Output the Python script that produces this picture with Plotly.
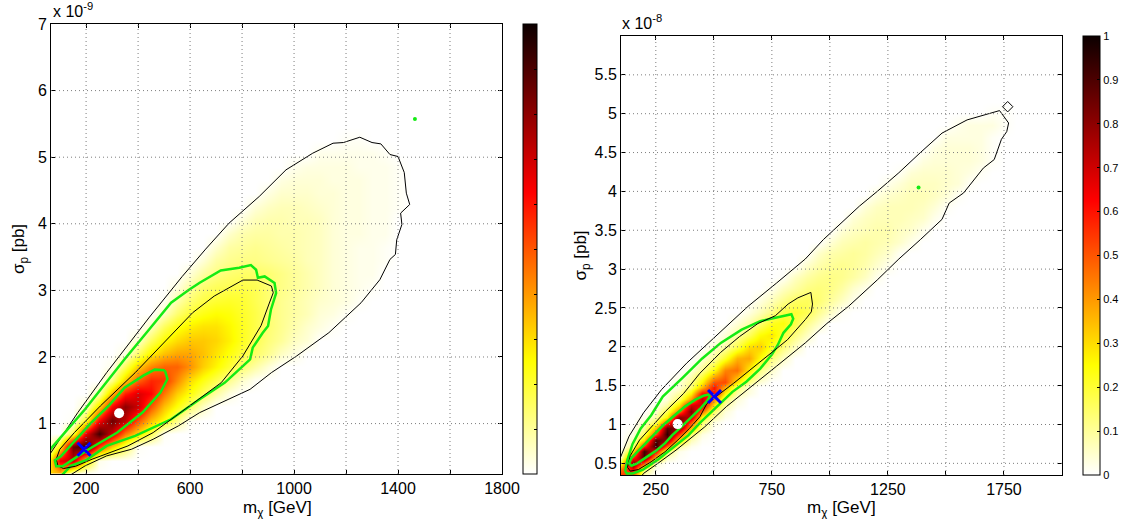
import plotly.graph_objects as go

W, H = 1125, 519
FONT = "Liberation Sans, Arial, Helvetica, sans-serif"

# ---------------- LEFT PANEL (sigma_p in units of 1e-9 pb) ----------------
L_XCOLS = list(range(50, 1501, 50))
# (sigma row, first m_chi column, relative density in % ...)
L_ROWS = [
    (0.25, 50, [30, 35, 3]),
    (0.45, 50, [15, 65, 72, 30, 2]),
    (0.65, 100, [25, 85, 95, 55, 32, 17, 1]),
    (0.85, 150, [18, 65, 92, 70, 45, 30, 17, 1]),
    (1.05, 150, [1, 22, 62, 85, 72, 50, 34, 24, 12, 1]),
    (1.25, 200, [5, 30, 62, 80, 70, 50, 34, 24, 15, 6]),
    (1.45, 250, [8, 35, 58, 68, 62, 45, 32, 24, 16, 9, 3]),
    (1.65, 300, [12, 32, 48, 57, 55, 42, 30, 23, 17, 11, 5, 1]),
    (1.85, 300, [2, 16, 32, 43, 48, 48, 41, 32, 26, 20, 14, 9, 4]),
    (2.05, 350, [3, 15, 27, 34, 38, 38, 34, 29, 24, 19, 15, 11, 6, 3]),
    (2.25, 400, [5, 16, 25, 30, 33, 33, 31, 27, 22, 17, 13, 10, 6, 4]),
    (2.45, 450, [6, 16, 23, 27, 29, 29, 26, 22, 18, 14, 11, 8, 5, 3, 1]),
    (2.65, 500, [6, 14, 20, 23, 25, 24, 21, 18, 14, 11, 9, 7, 4, 3, 1]),
    (2.85, 500, [1, 8, 14, 18, 20, 21, 20, 17, 14, 11, 9, 7, 5, 4, 3, 1]),
    (3.05, 550, [3, 9, 14, 16, 17, 18, 17, 14, 12, 10, 8, 6, 4, 3, 2, 1]),
    (3.25, 600, [4, 9, 12, 14, 15, 15, 14, 12, 10, 8, 6, 4, 3, 2, 2]),
    (3.45, 650, [4, 9, 11, 12, 12, 11, 10, 9, 7, 6, 4, 3, 2, 2, 1]),
    (3.65, 700, [5, 9, 10, 11, 10, 9, 8, 7, 6, 4, 3, 2, 2, 1]),
    (3.85, 750, [5, 8, 9, 9, 8, 8, 7, 6, 4, 3, 3, 2, 2]),
    (4.05, 800, [4, 7, 8, 8, 7, 7, 6, 4, 3, 3, 2, 2]),
    (4.25, 850, [4, 6, 7, 7, 6, 5, 4, 3, 3, 2, 2, 1]),
    (4.45, 900, [3, 5, 5, 5, 4, 4, 3, 3, 2, 2, 1]),
    (4.65, 950, [3, 4, 4, 4, 3, 3, 3, 2, 2, 1]),
    (4.85, 1000, [2, 3, 3, 3, 3, 2, 2, 2, 1]),
    (5.05, 1100, [2, 2, 2, 2, 2, 1]),
    (5.25, 1200, [1, 1]),
    (5.45, 1200, [0]),
]
# contour lines (m_chi, sigma)
L_OB_X = [40, 99, 168, 279, 444, 570, 660, 750, 866, 969, 1072, 1150, 1190, 1253, 1300, 1334, 1369, 1400, 1424, 1432,
          1445, 1410, 1415, 1395, 1390, 1369, 1330, 1258, 1189, 1134, 1010, 913, 831, 748, 637, 555, 458, 375, 279, 196,
          141, 120]
L_OB_Y = [0.42, 0.765, 1.165, 1.765, 2.60, 3.21, 3.62, 4.01, 4.41, 4.81, 5.06, 5.21, 5.22, 5.30, 5.22, 5.20, 5.04, 5.01,
          4.77, 4.46, 4.29, 4.16, 3.99, 3.76, 3.54, 3.465, 3.16, 2.815, 2.565, 2.365, 2.015, 1.765, 1.515, 1.365, 1.165,
          0.965, 0.765, 0.615, 0.515, 0.365, 0.24, 0.18]
L_OG_X = [30, 68, 196, 348, 444, 527, 596, 637, 718, 789, 834, 854, 861, 887, 925, 931, 911, 900, 879, 841, 831, 734,
          637, 527, 389, 279, 200, 141, 113, 95]
L_OG_Y = [0.46, 0.64, 1.215, 1.965, 2.42, 2.815, 3.01, 3.115, 3.30, 3.34, 3.38, 3.31, 3.19, 3.21, 3.11, 2.96, 2.71,
          2.465, 2.36, 2.14, 1.965, 1.615, 1.365, 1.065, 0.815, 0.665, 0.45, 0.365, 0.25, 0.18]
L_IB_X = [85, 92, 113, 160, 223, 361, 458, 596, 720, 803, 873, 905, 920, 913, 858, 803, 748, 693, 610, 499, 389, 255,
          155, 99, 85]
L_IB_Y = [0.465, 0.365, 0.325, 0.36, 0.465, 0.665, 0.865, 1.265, 1.615, 2.015, 2.47, 2.81, 2.965, 3.065, 3.155, 3.155,
          3.04, 2.915, 2.665, 2.215, 1.765, 1.265, 0.865, 0.615, 0.465]
L_IG_X = [503, 513, 486, 417, 320, 210, 141, 110, 85, 80, 103, 160, 219, 290, 348, 420, 464, 503]
L_IG_Y = [1.80, 1.67, 1.465, 1.165, 0.865, 0.615, 0.44, 0.36, 0.36, 0.45, 0.51, 0.76, 1.01, 1.28, 1.54, 1.72, 1.81, 1.80]
L_DOT = (327, 1.155)
L_CROSS = (192, 0.615)
L_GREEN_PT = (1465, 5.575)

# ---------------- RIGHT PANEL (sigma_p in units of 1e-8 pb) ----------------
R_XCOLS = list(range(100, 1801, 50))
R_ROWS = [
    (0.35, 100, [55, 50, 6]),
    (0.425, 100, [45, 65, 15, 1]),
    (0.50, 100, [22, 85, 50, 5]),
    (0.575, 100, [6, 55, 90, 35, 6, 1]),
    (0.65, 100, [3, 28, 92, 62, 15, 2]),
    (0.725, 150, [12, 55, 95, 48, 10, 2]),
    (0.80, 150, [6, 30, 90, 80, 30, 7, 1]),
    (0.875, 150, [3, 16, 52, 95, 55, 14, 3]),
    (0.95, 150, [1, 10, 35, 88, 82, 35, 10, 1]),
    (1.025, 200, [5, 17, 50, 91, 52, 15, 3]),
    (1.10, 200, [2, 9, 27, 80, 73, 24, 9, 2]),
    (1.175, 250, [5, 17, 45, 83, 48, 15, 4]),
    (1.25, 250, [2, 9, 29, 69, 69, 29, 9, 2]),
    (1.325, 300, [4, 15, 40, 72, 42, 14, 4]),
    (1.40, 300, [3, 9, 26, 60, 60, 26, 9, 3]),
    (1.475, 350, [4, 14, 35, 60, 37, 14, 4]),
    (1.55, 350, [4, 11, 26, 50, 52, 28, 12, 4]),
    (1.70, 400, [4, 11, 24, 43, 46, 27, 12, 5]),
    (1.85, 450, [4, 10, 21, 36, 38, 25, 13, 6]),
    (2.00, 500, [5, 9, 18, 30, 32, 22, 13, 6]),
    (2.15, 550, [4, 9, 16, 25, 28, 20, 12, 6]),
    (2.30, 600, [4, 8, 14, 22, 24, 18, 11, 6]),
    (2.45, 650, [3, 7, 12, 18, 20, 17, 11, 6, 1]),
    (2.60, 700, [3, 7, 11, 15, 16, 14, 10, 6, 2]),
    (2.75, 750, [2, 6, 9, 12, 13, 12, 9, 5, 2]),
    (2.90, 800, [1, 6, 9, 11, 12, 11, 9, 6, 2]),
    (3.05, 900, [5, 8, 10, 11, 10, 8, 5, 2]),
    (3.20, 950, [5, 8, 9, 10, 9, 7, 5, 1]),
    (3.35, 1000, [4, 7, 8, 9, 8, 7, 5, 2]),
    (3.50, 1050, [4, 6, 7, 8, 8, 6, 5, 2]),
    (3.65, 1100, [4, 6, 7, 7, 7, 6, 5, 2]),
    (3.80, 1150, [4, 6, 7, 7, 7, 6, 4, 1]),
    (3.95, 1200, [3, 5, 6, 7, 7, 6, 4, 1]),
    (4.10, 1250, [2, 4, 6, 6, 6, 5, 4, 1]),
    (4.25, 1300, [1, 4, 5, 5, 5, 4, 3, 1]),
    (4.40, 1400, [3, 4, 4, 4, 4, 3, 1]),
    (4.55, 1450, [3, 4, 4, 4, 3, 1]),
    (4.70, 1500, [3, 3, 3, 3, 1]),
    (4.85, 1550, [2, 3, 3, 3, 1]),
    (5.00, 1700, [1, 1]),
    (5.15, 1700, [0]),
]
R_OB_X = [90, 112, 135, 197, 275, 383, 507, 647, 770, 894, 972, 1049, 1127, 1204, 1297, 1390, 1483, 1591, 1653, 1700,
          1731, 1770, 1762, 1739, 1708, 1661, 1615, 1576, 1514, 1483, 1390, 1297, 1204, 1080, 987, 894, 770, 677, 554,
          461, 337, 259, 197, 180]
R_OB_Y = [0.52, 0.67, 0.85, 1.15, 1.45, 1.79, 2.13, 2.52, 2.82, 3.13, 3.38, 3.59, 3.81, 4.00, 4.24, 4.50, 4.75, 4.92,
          4.97, 5.01, 5.04, 4.88, 4.77, 4.67, 4.41, 4.30, 4.13, 3.98, 3.85, 3.64, 3.38, 3.13, 2.86, 2.52, 2.30, 2.05,
          1.75, 1.53, 1.23, 0.97, 0.67, 0.50, 0.37, 0.30]
R_OG_X = [118, 128, 150, 185, 230, 280, 365, 450, 530, 620, 700, 776, 834, 842, 832, 800, 775, 750, 700, 640, 580, 510,
          440, 390, 325, 260, 195, 150, 125, 118]
R_OG_Y = [0.40, 0.55, 0.75, 0.95, 1.12, 1.36, 1.60, 1.85, 2.05, 2.22, 2.33, 2.38, 2.42, 2.36, 2.29, 2.18, 2.02, 1.90,
          1.72, 1.55, 1.42, 1.22, 1.02, 0.86, 0.70, 0.55, 0.42, 0.37, 0.37, 0.40]
R_IB_X = [128, 140, 180, 235, 292, 370, 440, 530, 610, 690, 765, 820, 862, 918, 925, 920, 894, 817, 708, 585, 470, 440,
          395, 345, 290, 230, 175, 140, 128]
R_IB_Y = [0.45, 0.60, 0.80, 0.98, 1.17, 1.40, 1.66, 1.93, 2.13, 2.30, 2.40, 2.55, 2.63, 2.70, 2.55, 2.45, 2.35, 2.09,
          1.83, 1.53, 1.27, 1.10, 0.95, 0.80, 0.65, 0.52, 0.42, 0.40, 0.45]
R_IG_X = [484, 470, 440, 400, 360, 320, 290, 250, 205, 170, 145, 135, 145, 170, 205, 245, 285, 330, 375, 420, 455, 476,
          484]
R_IG_Y = [1.36, 1.30, 1.20, 1.08, 0.97, 0.86, 0.76, 0.66, 0.57, 0.50, 0.47, 0.50, 0.57, 0.65, 0.76, 0.88, 1.00, 1.12,
          1.23, 1.32, 1.37, 1.385, 1.36]
R_DOT = (344, 1.005)
R_CROSS = (503, 1.36)
R_GREEN_PT = (1382, 4.05)
R_DIAMOND = (1766, 5.09)

# ticks
L_XTICKS = [200, 400, 600, 800, 1000, 1200, 1400, 1600, 1800]
L_XLABELS = ["200", "", "600", "", "1000", "", "1400", "", "1800"]
L_YTICKS = [1, 2, 3, 4, 5, 6, 7]
R_XTICKS = [250, 500, 750, 1000, 1250, 1500, 1750]
R_XLABELS = ["250", "", "750", "", "1250", "", "1750"]
R_YTICKS = [0.5, 1, 1.5, 2, 2.5, 3, 3.5, 4, 4.5, 5, 5.5]
R_YLABELS = ["0.5", "1", "1.5", "2", "2.5", "3", "3.5", "4", "4.5", "5", "5.5"]
CB_TICKS = [0, 0.1, 0.2, 0.3, 0.4, 0.5, 0.6, 0.7, 0.8, 0.9, 1]
CB_LABELS = ["0", "0.1", "0.2", "0.3", "0.4", "0.5", "0.6", "0.7", "0.8", "0.9", "1"]

HOT_R = [[0.0, "rgb(255,255,255)"], [0.25, "rgb(255,255,0)"], [0.625, "rgb(255,0,0)"], [1.0, "rgb(12,0,0)"]]
GREEN = "rgb(20,235,20)"


def grid_from_rows(xcols, rows):
    ys, z = [], []
    for y, x0, vals in rows:
        r = [0.0] * len(xcols)
        i0 = xcols.index(x0)
        for k, v in enumerate(vals):
            r[i0 + k] = v / 100.0
        ys.append(y)
        z.append(r)
    return ys, z


L_YS, L_Z = grid_from_rows(L_XCOLS, L_ROWS)
R_YS, R_Z = grid_from_rows(R_XCOLS, R_ROWS)


def px_x(p):
    return p / W


def px_y(p):
    return 1 - p / H


# frame geometry in pixels
LX0, LX1, LY0, LY1 = 51, 502, 24, 474
RX0, RX1, RY0, RY1 = 621, 1062, 36, 475

fig = go.Figure()
fig.add_trace(go.Heatmap(
    x=L_XCOLS, y=L_YS, z=L_Z, zmin=0, zmax=1, colorscale=HOT_R, zsmooth="best",
    xaxis="x", yaxis="y", hoverinfo="skip",
    colorbar=dict(x=px_x(523), xanchor="left", y=px_y((LY0 + LY1) / 2), yanchor="middle",
                  len=(LY1 - LY0) / H, lenmode="fraction",
                  thickness=14, thicknessmode="pixels", xpad=0, ypad=0, outlinewidth=1, outlinecolor="black",
                  ticks="inside", ticklen=3, tickcolor="black", tickvals=CB_TICKS, showticklabels=False),
))
fig.add_trace(go.Heatmap(
    x=R_XCOLS, y=R_YS, z=R_Z, zmin=0, zmax=1, colorscale=HOT_R, zsmooth="best",
    xaxis="x2", yaxis="y2", hoverinfo="skip",
    colorbar=dict(x=px_x(1083), xanchor="left", y=px_y((RY0 + RY1) / 2), yanchor="middle",
                  len=(RY1 - RY0) / H, lenmode="fraction",
                  thickness=17, thicknessmode="pixels", xpad=0, ypad=0, outlinewidth=1, outlinecolor="black",
                  ticks="inside", ticklen=3, tickcolor="black", tickvals=CB_TICKS, ticktext=CB_LABELS,
                  tickfont=dict(family=FONT, size=11, color="black")),
))


def line(xs, ys, color, width, xa, ya):
    fig.add_trace(go.Scatter(x=xs, y=ys, mode="lines", line=dict(color=color, width=width),
                             xaxis=xa, yaxis=ya, hoverinfo="skip", showlegend=False))


line(L_OB_X, L_OB_Y, "black", 1, "x", "y")
line(L_OG_X, L_OG_Y, GREEN, 2.5, "x", "y")
line(L_IB_X, L_IB_Y, "black", 1, "x", "y")
line(L_IG_X, L_IG_Y, GREEN, 2.5, "x", "y")
line(R_OB_X, R_OB_Y, "black", 1, "x2", "y2")
line(R_OG_X, R_OG_Y, GREEN, 2.5, "x2", "y2")
line(R_IB_X, R_IB_Y, "black", 1, "x2", "y2")
line(R_IG_X, R_IG_Y, GREEN, 2.5, "x2", "y2")


def marker(pt, xa, ya, **m):
    fig.add_trace(go.Scatter(x=[pt[0]], y=[pt[1]], mode="markers", marker=m, xaxis=xa, yaxis=ya,
                             hoverinfo="skip", showlegend=False, cliponaxis=False))


marker(L_GREEN_PT, "x", "y", symbol="circle", size=4, color=GREEN)
marker(R_GREEN_PT, "x2", "y2", symbol="circle", size=4, color=GREEN)
marker(R_DIAMOND, "x2", "y2", symbol="diamond-open", size=8, color="black", line=dict(width=1, color="black"))
marker(L_DOT, "x", "y", symbol="circle", size=10, color="white", line=dict(width=0))
marker(R_DOT, "x2", "y2", symbol="circle", size=10, color="white", line=dict(width=0))
marker(L_CROSS, "x", "y", symbol="x-thin", size=13, line=dict(width=3, color="rgb(0,0,255)"))
marker(R_CROSS, "x2", "y2", symbol="x-thin", size=13, line=dict(width=3, color="rgb(0,0,255)"))

axis_common = dict(showline=True, linecolor="black", linewidth=1, mirror="ticks", ticks="inside", ticklen=4,
                   tickcolor="black", showgrid=False, zeroline=False, automargin=False,
                   tickfont=dict(family=FONT, size=16, color="black"))
YTITLE_FONT = dict(family=FONT, size=17, color="black")

fig.update_layout(
    width=W, height=H, margin=dict(l=0, r=0, t=0, b=0),
    paper_bgcolor="white", plot_bgcolor="white", showlegend=False,
    font=dict(family=FONT, size=16, color="black"),
    xaxis=dict(domain=[px_x(LX0), px_x(LX1)], range=[65, 1800], anchor="y", tickmode="array",
               tickvals=L_XTICKS, ticktext=L_XLABELS, **axis_common),
    yaxis=dict(domain=[px_y(LY1), px_y(LY0)], range=[0.243, 7], anchor="x", tickmode="array",
               tickvals=L_YTICKS, ticktext=[str(v) for v in L_YTICKS],
               title=dict(text="σ<sub>p</sub> [pb]", font=YTITLE_FONT, standoff=8), **axis_common),
    xaxis2=dict(domain=[px_x(RX0), px_x(RX1)], range=[100, 2000], anchor="y2", tickmode="array",
                tickvals=R_XTICKS, ticktext=R_XLABELS, **axis_common),
    yaxis2=dict(domain=[px_y(RY1), px_y(RY0)], range=[0.35, 6.0], anchor="x2", tickmode="array",
                tickvals=R_YTICKS, ticktext=R_YLABELS,
                title=dict(text="σ<sub>p</sub> [pb]", font=YTITLE_FONT, standoff=3), **axis_common),
)

# dotted grid lines drawn above the density (as in the original)
shapes = []
GRID = dict(color="rgb(125,125,125)", width=1, dash="1px,3px")
for v in L_XTICKS[:-1]:
    shapes.append(dict(type="line", xref="x", yref="y domain", x0=v, x1=v, y0=0, y1=1, line=GRID, layer="above"))
for v in L_YTICKS[:-1]:
    shapes.append(dict(type="line", xref="x domain", yref="y", x0=0, x1=1, y0=v, y1=v, line=GRID, layer="above"))
for v in R_XTICKS:
    shapes.append(dict(type="line", xref="x2", yref="y2 domain", x0=v, x1=v, y0=0, y1=1, line=GRID, layer="above"))
for v in R_YTICKS:
    shapes.append(dict(type="line", xref="x2 domain", yref="y2", x0=0, x1=1, y0=v, y1=v, line=GRID, layer="above"))
fig.update_layout(shapes=shapes)

annotations = []
for xc in (277, 841):
    annotations.append(dict(text="m<sub>χ</sub> [GeV]", x=px_x(xc), y=px_y(509), xref="paper", yref="paper",
                            showarrow=False, xanchor="center", yanchor="middle",
                            font=dict(family=FONT, size=17, color="black")))
annotations.append(dict(text="x 10<sup>-9</sup>", x=px_x(51), y=px_y(22), xref="paper", yref="paper",
                        showarrow=False, xanchor="left", yanchor="bottom",
                        font=dict(family=FONT, size=16, color="black")))
annotations.append(dict(text="x 10<sup>-8</sup>", x=px_x(620), y=px_y(34), xref="paper", yref="paper",
                        showarrow=False, xanchor="left", yanchor="bottom",
                        font=dict(family=FONT, size=16, color="black")))
fig.update_layout(annotations=annotations)

fig.write_html("out.html")
